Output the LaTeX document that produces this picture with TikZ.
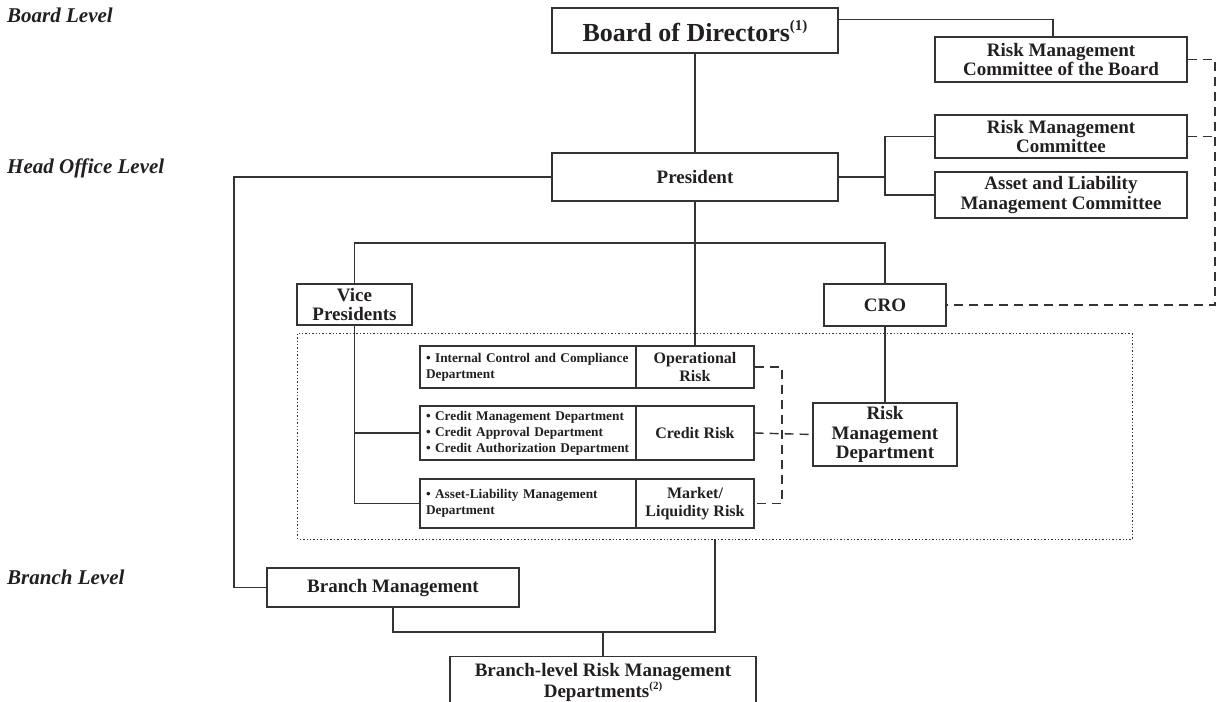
\documentclass[tikz,border=0pt]{standalone}
\usepackage{fontspec}
\setmainfont{Liberation Serif}
\usetikzlibrary{calc}
\definecolor{ink}{HTML}{231F20}
\definecolor{wire}{HTML}{333333}
\newcommand\myfs[2]{\fontsize{#1}{#2}\selectfont\bfseries}
\newcommand\mysup[2]{\raisebox{0.42em}{\fontsize{#1}{#1}\selectfont #2}}
\begin{document}
\begin{tikzpicture}[x=1pt,y=-1pt,
  every node/.style={text=ink},
  bx/.style={draw=wire, line width=1.2pt, rectangle, inner sep=0pt, align=center},
  big/.style={font=\myfs{19}{19.5}},
  risk/.style={font=\myfs{16}{17.5}},
  small/.style={font=\myfs{13.3}{16}},
  leftbox/.style={draw=wire, line width=1.2pt, rectangle, inner xsep=6pt, inner ysep=0pt, align=left, text width=204pt},
  lvl/.style={anchor=west, inner sep=0pt, font=\fontsize{21}{22}\selectfont\bfseries\itshape},
  wireline/.style={draw=wire, line width=1.1pt},
  dashline/.style={draw=wire, line width=1.4pt, dash pattern=on 9pt off 6pt},
  dotline/.style={draw=wire, line width=1.3pt, dash pattern=on 1.4pt off 2pt}
]
\useasboundingbox (0,0) rectangle (1220,701);
\clip (0,0) rectangle (1220,701);

% level labels
\node[lvl] (lvB) at (7,15) {Board Level};
\node[lvl] (lvH) at (7,168) {Head Office Level};
\node[lvl] (lvR) at (7,577) {Branch Level};

% boxes
\node[bx, minimum width=286pt, minimum height=45pt, font=\myfs{26}{28}] (board) at (695,30.5) {Board of Directors\mysup{15}{(1)}};
\node[bx, big, minimum width=252pt, minimum height=45pt] (rmcb) at (1061,59.5) {Risk Management\\Committee of the Board};
\node[bx, big, minimum width=286pt, minimum height=48pt] (pres) at (695,177) {President};
\node[bx, big, minimum width=252pt, minimum height=43pt] (rmc) at (1061,136.5) {Risk Management\\Committee};
\node[bx, big, minimum width=252pt, minimum height=46pt] (almc) at (1061,195) {Asset and Liability\\Management Committee};
\node[bx, big, minimum width=115pt, minimum height=41pt] (vp) at (354.5,304.5) {Vice\\Presidents};
\node[bx, big, minimum width=122pt, minimum height=42pt] (cro) at (885,305) {CRO};

\node[draw=none, minimum width=834pt, minimum height=205pt, inner sep=0pt] (dotbox) at (715,436.5) {};
\draw[dotline] (dotbox.north west) rectangle (dotbox.south east);

\node[leftbox, small, minimum height=42pt] (opL) at (528,367) {\textbullet\ Internal Control and Compliance\\Department};
\node[bx, risk, minimum width=118pt, minimum height=42pt] (opR) at (695,367) {Operational\\Risk};
\node[leftbox, small, minimum height=54pt] (crL) at (528,433) {\textbullet\ Credit Management Department\\\textbullet\ Credit Approval Department\\\textbullet\ Credit Authorization Department};
\node[bx, risk, minimum width=118pt, minimum height=54pt] (crR) at (695,433) {Credit Risk};
\node[leftbox, small, minimum height=49pt] (mkL) at (528,503.5) {\textbullet\ Asset-Liability Management\\Department};
\node[bx, risk, minimum width=118pt, minimum height=49pt] (mkR) at (695,503.5) {Market/\\Liquidity Risk};

\node[bx, big, minimum width=144pt, minimum height=63pt] (rmd) at (885,434.5) {Risk\\Management\\Department};

\node[bx, big, minimum width=252pt, minimum height=39pt] (bm) at (393,587.5) {Branch Management};
\node[bx, big, minimum width=306pt, minimum height=52pt, anchor=north] (brl) at (603,656) {Branch-level Risk Management\\Departments\mysup{11}{(2)}};

% coordinates
\coordinate (bj) at (603,632);
\coordinate (lx) at (234,400);
\coordinate (hj) at (695,243);
\coordinate (rj) at (885,177);
\coordinate (dx) at (1215,200);
\coordinate (mx) at (782,430);

% solid connectors
\draw[wireline] ($(board.north east)+(0,12)$) -| ($(rmcb.north)+(-8,0)$);
\draw[wireline] (board.south) -- (pres.north);
\draw[wireline] (pres.east) -- (rj);
\draw[wireline] (rmc.west) -| (rj) |- (almc.west);
\draw[wireline] (pres.south) -- (opR.north);
\draw[wireline] (vp.north) |- (hj) -| (cro.north);
\draw[wireline] (pres.west) -| (lx) |- (bm.west);
\draw[wireline] (vp.south) |- (mkL.west);
\draw[wireline] (crL.west) -- (crL.west -| vp.south);
\draw[wireline] (cro.south) -- (rmd.north);
\draw[wireline] (dotbox.south) |- (bj) -| (bm.south);
\draw[wireline] (bj) -- (brl.north);

% dashed connectors
\draw[dashline] (rmcb.east) -| (dx) |- (cro.east);
\draw[dashline] (rmc.east) -- (rmc.east -| dx);
\draw[dashline] (opR.east) -| (mx) |- (mkR.east);
\draw[dashline] (crR.east) -- (rmd.west);
\end{tikzpicture}
\end{document}
